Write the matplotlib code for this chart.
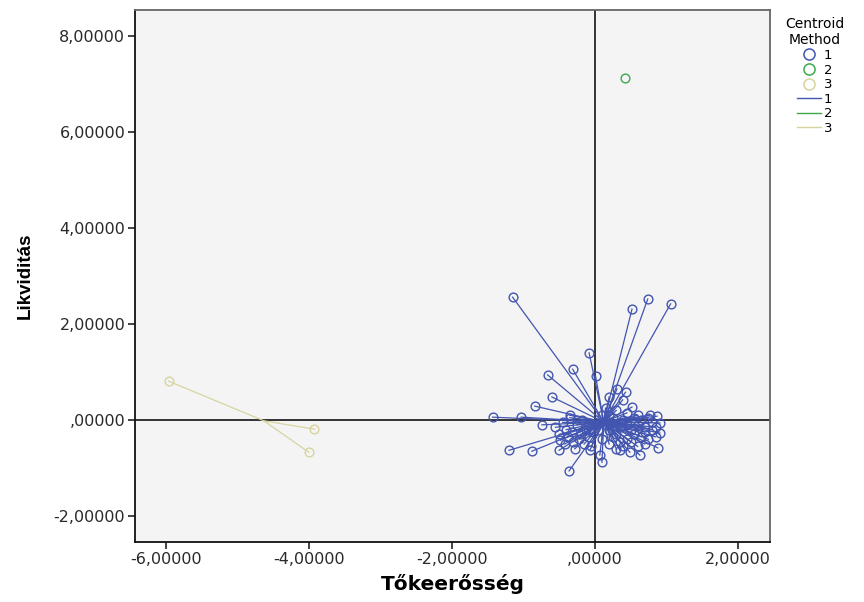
#!/usr/bin/env python3
"""Centroid plot: cluster members joined to their group centroid."""

import matplotlib
matplotlib.use("Agg")
import matplotlib.pyplot as plt
from matplotlib.lines import Line2D
from matplotlib.ticker import FuncFormatter
import numpy as np

# Cluster 1 (Tőkeerősség, Likviditás)
c1_x = [
    -1.15, 0.52, 0.74, 1.06, -0.08, -0.31, -0.66, 0.01, 0.31, 0.43, 0.20, -0.60,
    0.39, -0.84, 0.52, -1.43, -1.03, -0.35, -0.74, 0.77, 0.87, 0.91, 0.91, 0.88,
    0.63, -1.20, -0.88, -0.50, -0.36, 0.10, 0.07, -0.07, 0.35, 0.49,
    -0.45, -0.40, -0.38, -0.30, -0.25, -0.20, -0.15, -0.12, -0.35, -0.50, -0.42,
    -0.28, -0.18, -0.08, -0.05, -0.55, -0.22, -0.32, -0.10, -0.48, -0.02,
    0.10, 0.15, 0.20, 0.25, 0.30, 0.35, 0.40, 0.45, 0.50, 0.55, 0.60, 0.65,
    0.70, 0.75, 0.80, 0.85, 0.70, 0.60, 0.50, 0.40, 0.30, 0.20, 0.10, 0.15,
    0.30, 0.45, 0.55, 0.65, 0.75, 0.80, 0.35, 0.25, 0.05, 0.60, 0.85, 0.45,
    0.20, 0.70,
]
c1_y = [
    2.56, 2.31, 2.52, 2.42, 1.40, 1.06, 0.94, 0.92, 0.65, 0.58, 0.48, 0.48,
    0.42, 0.29, 0.27, 0.06, 0.06, 0.10, -0.10, 0.10, 0.08, -0.06, -0.27, -0.58,
    -0.73, -0.63, -0.65, -0.63, -1.06, -0.88, -0.73, -0.63, -0.63, -0.67,
    -0.05, -0.20, -0.35, -0.45, -0.10, -0.30, -0.50, -0.20, 0.05, -0.30, -0.50,
    -0.60, 0.00, -0.35, -0.55, -0.15, -0.40, -0.25, -0.10, -0.42, -0.25,
    0.10, -0.10, -0.20, 0.05, -0.30, -0.15, 0.00, -0.40, -0.20, 0.05, -0.10, -0.35,
    -0.50, 0.05, -0.20, -0.35, -0.25, -0.55, -0.45, -0.55, -0.60, -0.50, -0.40, 0.25,
    0.20, 0.15, -0.30, 0.00, -0.40, -0.05, -0.45, -0.35, -0.20, 0.10, -0.15, -0.10,
    0.10, -0.15,
]

# Cluster 2
c2_x = [0.42]
c2_y = [7.12]

# Cluster 3
c3_x = [-5.96, -3.92, -4.00]
c3_y = [0.81, -0.19, -0.67]

group_labels = ["1", "2", "3"]
group_colors = ["#4255b0", "#3ea84f", "#d8d4a0"]

x_ticks = [-6, -4, -2, 0, 2]
y_ticks = [-2, 0, 2, 4, 6, 8]


def hu_fmt(v, _pos):
    s = f"{v:.5f}".replace(".", ",")
    if s.startswith("0,"):
        s = s[1:]
    elif s.startswith("-0,"):
        s = s[2:]
    return s


fig = plt.figure(figsize=(8.64, 6.02), dpi=100)
ax = fig.add_axes([135 / 864, 1 - 542 / 602, 635 / 864, 532 / 602])
ax.set_facecolor("#f4f4f4")

groups = [(c1_x, c1_y), (c2_x, c2_y), (c3_x, c3_y)]

# reference lines through the origin
ax.axhline(0, color="#333333", linewidth=1.4, zorder=1)
ax.axvline(0, color="#333333", linewidth=1.4, zorder=1)

for (gx, gy), color in zip(groups, group_colors):
    gx = np.asarray(gx)
    gy = np.asarray(gy)
    cx, cy = gx.mean(), gy.mean()
    for px, py in zip(gx, gy):
        ax.plot([cx, px], [cy, py], color=color, linewidth=0.9, zorder=2)
    ax.plot(gx, gy, linestyle="none", marker="o", markersize=6.3,
            markerfacecolor="none", markeredgecolor=color, markeredgewidth=1.0, zorder=3)

ax.set_xlim(-6.43, 2.45)
ax.set_ylim(-2.54, 8.54)
ax.set_xticks(x_ticks)
ax.set_yticks(y_ticks)
ax.xaxis.set_major_formatter(FuncFormatter(hu_fmt))
ax.yaxis.set_major_formatter(FuncFormatter(hu_fmt))
ax.tick_params(direction="out", length=5, width=1.2, colors="#222222",
               labelsize=11.5, labelcolor="#2a2a2a")
ax.tick_params(axis="x", pad=2)
ax.tick_params(axis="y", pad=2)
for side in ("left", "bottom"):
    ax.spines[side].set_color("#111111")
    ax.spines[side].set_linewidth(1.3)
for side in ("top", "right"):
    ax.spines[side].set_color("#666666")
    ax.spines[side].set_linewidth(1.3)

ax.set_xlabel("Tőkeerősség", fontsize=14.5, fontweight="bold", labelpad=5)
ax.set_ylabel("Likviditás", fontsize=13.5, fontweight="bold",
              family="Liberation Sans", labelpad=14)

handles = [
    Line2D([], [], linestyle="none", marker="o", markersize=8,
           markerfacecolor="none", markeredgecolor=c, markeredgewidth=1.1)
    for c in group_colors
] + [Line2D([], [], color=c, linewidth=1.0) for c in group_colors]
leg = fig.legend(handles, group_labels + group_labels, title="Centroid\nMethod",
                 loc="upper left", bbox_to_anchor=(780 / 864, 1 - 12 / 602),
                 frameon=False, fontsize=9.5, title_fontsize=10,
                 handlelength=1.8, handletextpad=0.2, labelspacing=0.12,
                 borderaxespad=0.0)
leg.get_title().set_multialignment("center")

fig.savefig("out.png", dpi=100)
